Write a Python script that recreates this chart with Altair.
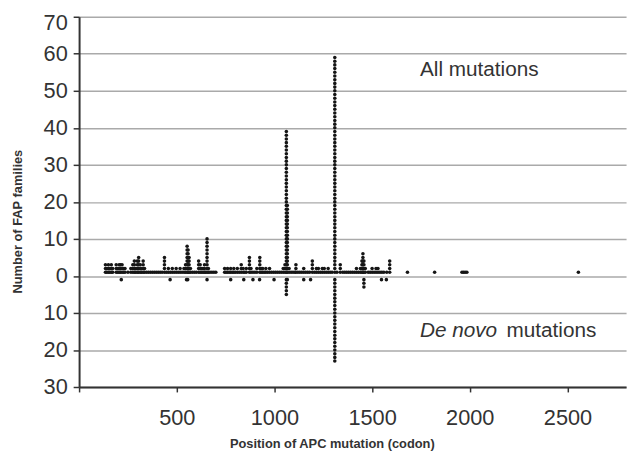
import altair as alt
import pandas as pd

# All mutations: codon position and number of families
all_codons = [135, 142, 150, 157, 165, 172,
              190, 198, 205, 212, 220, 228, 235,
              250, 265, 275, 283, 290, 298, 305, 313, 320, 328, 335,
              345, 355, 365, 375, 385, 395, 405, 415, 425,
              437, 447, 457, 467, 477, 487, 497, 507, 517, 527, 537, 545, 553, 558, 563, 570,
              580, 590, 600, 612, 620, 628, 635, 642, 648, 655, 662, 670, 680, 690, 700,
              745, 752, 760, 768, 776, 784, 792, 800, 810, 820, 830, 840, 848, 856,
              872, 880, 890, 900, 910, 925, 932, 940, 948, 956, 965, 975, 985, 995,
              1005, 1015, 1025, 1035, 1045, 1054, 1061, 1066, 1075, 1085, 1095, 1105, 1110,
              1120, 1130, 1140, 1150, 1160, 1170, 1180, 1194, 1205, 1215, 1225, 1235, 1245,
              1255, 1265, 1275, 1285, 1295, 1309, 1320, 1337, 1350, 1360, 1370, 1380, 1390,
              1400, 1410, 1420, 1430, 1440, 1448, 1453, 1458, 1465, 1480, 1490, 1500, 1510,
              1520, 1530, 1540, 1550, 1560, 1575, 1590, 1681, 1820, 1960, 1968, 1976, 1985, 2556]
all_counts = [3, 2, 3, 2, 3, 2,
              3, 2, 3, 3, 3, 2, 2,
              1, 2, 3, 4, 2, 4, 5, 3, 2, 4, 2,
              1, 1, 1, 1, 1, 1, 1, 1, 1,
              5, 1, 2, 1, 2, 1, 2, 1, 2, 1, 2, 3, 8, 7, 5, 2,
              1, 1, 1, 4, 3, 2, 2, 3, 1, 10, 2, 1, 1, 1, 1,
              2, 1, 2, 1, 2, 1, 2, 1, 2, 1, 3, 2, 1, 2,
              5, 2, 1, 1, 2, 5, 2, 2, 1, 2, 1, 2, 1, 1,
              1, 1, 1, 1, 2, 3, 39, 19, 2, 1, 1, 1, 3,
              1, 1, 1, 2, 1, 1, 1, 4, 1, 2, 2, 1, 2,
              2, 1, 2, 1, 1, 59, 1, 3, 1, 1, 1, 1, 1,
              1, 1, 2, 1, 2, 4, 6, 4, 2, 1, 1, 2, 1,
              2, 2, 1, 1, 1, 1, 4, 1, 1, 1, 1, 1, 1, 1]

# De novo mutations (drawn below zero)
denovo_codons = [216, 466, 550, 556, 655, 776, 843, 890, 924, 998,
                 1061, 1066, 1150, 1185, 1309, 1458, 1548, 1573]
denovo_counts = [1, 1, 1, 1, 1, 1, 1, 1, 1, 1,
                 5, 1, 1, 1, 23, 3, 1, 1]

y_ticks = [-30, -20, -10, 0, 10, 20, 30, 40, 50, 60, 70]
x_ticks = [0, 500, 1000, 1500, 2000, 2500]

rows = []
for c, n in zip(all_codons, all_counts):
    for k in range(1, n + 1):
        rows.append({"codon": c, "families": k})
for c, n in zip(denovo_codons, denovo_counts):
    for k in range(1, n + 1):
        rows.append({"codon": c, "families": -k})
df = pd.DataFrame(rows)

labels = pd.DataFrame([
    {"codon": 1745, "families": 55.6, "text": "All mutations", "style": "normal"},
    {"codon": 1745, "families": -14.8, "text": "De novo", "style": "italic"},
    {"codon": 2188, "families": -14.8, "text": "mutations", "style": "normal"},
])

xscale = alt.Scale(domain=[0, 2800], nice=False, zero=False)
yscale = alt.Scale(domain=[-30, 70], nice=False, zero=False)

points = alt.Chart(df).mark_circle(size=13, color="#151515", opacity=1).encode(
    x=alt.X("codon:Q", scale=xscale, axis=alt.Axis(
        values=x_ticks, tickCount=20, grid=False, title="Position of APC mutation  (codon)",
        format="d", labelOverlap=False, labelFlush=False,
        labelExpr="datum.value == 0 ? '' : datum.label",
        labelFontSize=22, labelColor="#333333", labelFont="Liberation Sans",
        labelPadding=16, tickSize=5, tickColor="#333333", tickWidth=1.5,
        domainColor="#333333", domainWidth=2,
        titleFont="Liberation Sans", titleFontSize=13, titleFontWeight="bold",
        titleColor="#333333", titleX=256, titleY=64, titleAlign="center",
        titleBaseline="bottom")),
    y=alt.Y("families:Q", scale=yscale, axis=alt.Axis(
        values=y_ticks, tickCount=20, grid=True, gridColor="#aaaaaa", gridWidth=1.5,
        title="Number of FAP families",
        labelOverlap=False, labelFlush=False,
        labelExpr="abs(datum.value)",
        labelOffset={"condition": {"test": "datum.value == 70", "value": 6}, "value": 0},
        labelFontSize=22, labelColor="#333333", labelFont="Liberation Sans",
        labelPadding=6, tickSize=6, tickColor="#333333", tickWidth=1.5,
        domainColor="#333333", domainWidth=2,
        titleFont="Liberation Sans", titleFontSize=13, titleFontWeight="bold",
        titleColor="#333333", titleX=-62, titleY=207, titleAlign="center",
        titleBaseline="middle")),
)

text_normal = alt.Chart(labels[labels["style"] == "normal"]).mark_text(
    align="left", baseline="middle", fontSize=21, font="Liberation Sans", color="#333333"
).encode(x=alt.X("codon:Q", scale=xscale), y=alt.Y("families:Q", scale=yscale), text="text:N")

text_italic = alt.Chart(labels[labels["style"] == "italic"]).mark_text(
    align="left", baseline="middle", fontSize=21, font="Liberation Sans",
    fontStyle="italic", color="#333333"
).encode(x=alt.X("codon:Q", scale=xscale), y=alt.Y("families:Q", scale=yscale), text="text:N")

chart = alt.layer(points, text_normal, text_italic).properties(
    width=554, height=375,
    autosize=alt.AutoSizeParams(type="none"),
    padding={"left": 72, "top": 6, "right": 5, "bottom": 66},
    background="white",
).configure_view(stroke=None)

chart.save("out.html", embed_options={"renderer": "svg", "actions": False})
